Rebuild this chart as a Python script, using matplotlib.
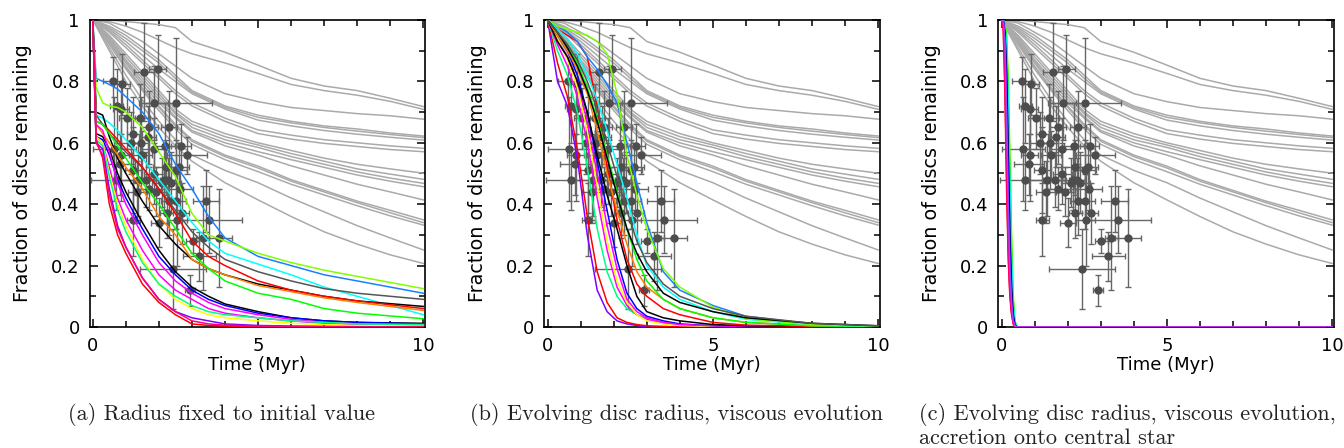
import matplotlib
matplotlib.use("Agg")
import matplotlib.pyplot as plt
from matplotlib.ticker import MultipleLocator, FixedLocator, FixedFormatter

# ---------------- data ----------------
# grey model curves (same in every panel)
GREY_T = [0, 0.5, 1, 1.5, 2, 2.5, 3, 4, 5, 6, 7, 8, 9, 10]
GREY_CURVES = [
    [1, 1.0, 0.995, 0.99, 0.985, 0.975, 0.93, 0.895, 0.853, 0.81, 0.785, 0.77, 0.745, 0.718],
    [1, 0.995, 0.98, 0.96, 0.935, 0.91, 0.89, 0.86, 0.826, 0.79, 0.77, 0.755, 0.735, 0.709],
    [1, 0.99, 0.96, 0.93, 0.89, 0.85, 0.81, 0.76, 0.734, 0.715, 0.705, 0.695, 0.688, 0.677],
    [1, 0.98, 0.95, 0.91, 0.87, 0.82, 0.77, 0.72, 0.690, 0.67, 0.655, 0.645, 0.632, 0.622],
    [1, 0.975, 0.94, 0.90, 0.86, 0.81, 0.765, 0.715, 0.683, 0.665, 0.65, 0.638, 0.627, 0.617],
    [1, 0.97, 0.93, 0.885, 0.84, 0.80, 0.76, 0.71, 0.674, 0.655, 0.64, 0.628, 0.618, 0.609],
    [1, 0.965, 0.92, 0.87, 0.82, 0.77, 0.73, 0.68, 0.642, 0.625, 0.61, 0.60, 0.59, 0.582],
    [1, 0.96, 0.91, 0.86, 0.81, 0.76, 0.72, 0.67, 0.630, 0.612, 0.598, 0.588, 0.578, 0.571],
    [1, 0.95, 0.89, 0.83, 0.77, 0.71, 0.67, 0.63, 0.600, 0.575, 0.55, 0.53, 0.515, 0.501],
    [1, 0.945, 0.88, 0.82, 0.76, 0.70, 0.66, 0.62, 0.593, 0.565, 0.54, 0.515, 0.498, 0.481],
    [1, 0.94, 0.87, 0.81, 0.75, 0.695, 0.65, 0.61, 0.585, 0.555, 0.53, 0.505, 0.485, 0.468],
    [1, 0.935, 0.865, 0.80, 0.74, 0.685, 0.64, 0.60, 0.571, 0.545, 0.52, 0.495, 0.475, 0.457],
    [1, 0.93, 0.86, 0.79, 0.73, 0.68, 0.635, 0.59, 0.560, 0.525, 0.495, 0.465, 0.44, 0.414],
    [1, 0.93, 0.85, 0.78, 0.72, 0.66, 0.61, 0.56, 0.524, 0.48, 0.445, 0.41, 0.38, 0.349],
    [1, 0.925, 0.845, 0.775, 0.715, 0.655, 0.605, 0.555, 0.518, 0.475, 0.44, 0.405, 0.372, 0.340],
    [1, 0.92, 0.84, 0.77, 0.705, 0.645, 0.595, 0.545, 0.506, 0.465, 0.43, 0.395, 0.362, 0.332],
    [1, 0.91, 0.82, 0.74, 0.67, 0.61, 0.56, 0.51, 0.470, 0.42, 0.375, 0.33, 0.29, 0.251],
    [1, 0.90, 0.80, 0.72, 0.65, 0.59, 0.54, 0.47, 0.414, 0.36, 0.31, 0.27, 0.235, 0.207],
]

# observed cluster disc fractions (same in every panel)
OBS_AGE = [0.62, 0.88, 0.72, 0.85, 1.04, 0.65, 0.85, 0.83, 1.23, 1.15, 1.23, 1.23, 1.36, 1.46,
           1.44, 1.50, 1.56, 1.61, 1.66, 1.71, 1.71, 1.84, 1.86, 1.96, 1.84, 1.91, 2.01, 2.16,
           2.19, 2.21, 2.23, 2.31, 2.36, 2.31, 2.43, 2.51, 2.51, 2.53, 2.54, 2.61, 2.63, 2.71,
           2.84, 2.66, 2.93, 3.02, 3.22, 3.32, 3.42, 3.52, 3.82, 2.10, 2.28, 1.35, 0.70]
OBS_FRAC = [0.80, 0.79, 0.72, 0.71, 0.68, 0.58, 0.56, 0.53, 0.63, 0.60, 0.51, 0.35, 0.48, 0.60,
            0.68, 0.56, 0.83, 0.48, 0.62, 0.65, 0.45, 0.58, 0.73, 0.84, 0.50, 0.44, 0.34, 0.48,
            0.59, 0.52, 0.37, 0.65, 0.47, 0.41, 0.19, 0.73, 0.51, 0.41, 0.35, 0.52, 0.45, 0.37,
            0.56, 0.59, 0.12, 0.28, 0.23, 0.29, 0.41, 0.35, 0.29, 0.47, 0.48, 0.44, 0.48]
OBS_AGE_ERR = [0.30, 0.25, 0.20, 0.25, 0.25, 0.65, 0.25, 0.45, 0.20, 0.30, 0.25, 0.20, 0.55, 0.25,
               0.30, 0.30, 0.30, 0.35, 0.25, 0.25, 0.35, 0.35, 0.40, 0.25, 0.30, 0.30, 0.25, 0.35,
               0.30, 0.40, 0.20, 0.25, 0.30, 0.25, 1.00, 1.10, 0.35, 0.30, 0.30, 0.30, 0.40, 0.20,
               0.60, 0.30, 0.15, 0.20, 0.50, 0.20, 0.40, 1.00, 0.40, 0.30, 0.25, 0.30, 0.75]
OBS_FRAC_ERR = [0.08, 0.10, 0.12, 0.08, 0.10, 0.17, 0.15, 0.10, 0.12, 0.10, 0.14, 0.12, 0.12, 0.15,
                0.11, 0.08, 0.16, 0.09, 0.10, 0.12, 0.07, 0.10, 0.12, 0.11, 0.10, 0.08, 0.08, 0.10,
                0.14, 0.09, 0.08, 0.12, 0.10, 0.11, 0.13, 0.21, 0.10, 0.09, 0.15, 0.08, 0.07, 0.10,
                0.06, 0.07, 0.05, 0.04, 0.08, 0.17, 0.10, 0.11, 0.16, 0.08, 0.07, 0.10, 0.10]

# coloured model curves, panel (a)
TA = [0, 0.1, 0.3, 0.5, 0.75, 1, 1.5, 2, 2.5, 3, 3.5, 4, 5, 6, 7, 8, 10]
A_COLORS = ['#1a80ff', '#80ff00', '#00ffff', '#555555', '#000000', '#ff0000', '#ff8000',
            '#00ff00', '#000000', '#0000ff', '#ff00ff', '#ff00ff', '#ffff00', '#00ff80',
            '#8000ff', '#ff0000', '#ff0080']
A_CURVES = [
    [1, .81, .80, .79, .775, .75, .70, .63, .53, .45, .36, .29, .23, .20, .17, .15, .11],
    [1, .78, .73, .72, .715, .70, .65, .57, .49, .37, .30, .28, .24, .21, .185, .165, .125],
    [1, .69, .68, .665, .64, .61, .55, .48, .41, .34, .28, .24, .205, .17, .13, .10, .04],
    [1, .69, .66, .63, .60, .57, .52, .45, .38, .31, .26, .22, .18, .15, .125, .11, .09],
    [1, .70, .69, .62, .55, .50, .41, .33, .27, .22, .19, .17, .14, .12, .10, .085, .067],
    [1, .67, .66, .64, .61, .58, .52, .45, .37, .28, .23, .20, .15, .12, .10, .085, .06],
    [1, .66, .63, .60, .56, .52, .45, .36, .30, .22, .19, .17, .135, .115, .095, .08, .054],
    [1, .67, .66, .63, .59, .55, .47, .40, .32, .24, .19, .15, .11, .09, .06, .045, .027],
    [1, .63, .62, .58, .50, .44, .34, .25, .18, .13, .10, .075, .05, .03, .02, .015, .012],
    [1, .62, .61, .56, .48, .42, .32, .23, .17, .12, .09, .07, .045, .03, .02, .015, .01],
    [1, .66, .64, .57, .47, .40, .30, .21, .15, .11, .08, .06, .04, .025, .015, .01, .006],
    [1, .62, .60, .52, .42, .35, .25, .17, .12, .09, .06, .045, .03, .02, .012, .008, .005],
    [1, .62, .60, .50, .40, .33, .22, .14, .09, .06, .04, .03, .02, .012, .008, .005, .003],
    [1, .61, .59, .49, .38, .31, .21, .14, .10, .07, .05, .04, .03, .02, .015, .01, .008],
    [1, .60, .58, .45, .33, .26, .16, .09, .05, .03, .02, .01, .005, .003, .002, .001, 0],
    [1, .61, .55, .40, .30, .24, .14, .08, .04, .01, .005, .003, .001, 0, 0, 0, 0],
    [1, .60, .56, .43, .32, .26, .16, .09, .05, .02, .01, .006, .003, .002, .001, 0, 0],
]

# coloured model curves, panel (b)
TB = [0, 0.3, 0.6, 0.9, 1.2, 1.5, 1.8, 2.1, 2.4, 2.7, 3.0, 3.5, 4, 5, 6, 8, 10]
B_COLORS = ['#8000ff', '#ff0000', '#00ff80', '#ff00ff', '#ffff00', '#0000ff', '#ff00ff',
            '#000000', '#ff0000', '#ff8000', '#00ff00', '#00ffff', '#1a80ff', '#80ff00',
            '#000000', '#555555']
B_CURVES = [
    [1, .80, .72, .55, .30, .12, .05, .02, .01, .005, 0, 0, 0, 0, 0, 0, 0],
    [1, .86, .75, .58, .36, .18, .08, .03, .015, .008, .004, .002, 0, 0, 0, 0, 0],
    [1, .90, .82, .70, .52, .32, .18, .10, .06, .04, .03, .015, .008, .003, .001, 0, 0],
    [1, .92, .85, .75, .60, .42, .25, .13, .07, .04, .025, .012, .006, .002, .001, 0, 0],
    [1, .94, .87, .78, .64, .46, .28, .15, .08, .04, .02, .01, .005, .002, 0, 0, 0],
    [1, .95, .90, .82, .70, .54, .38, .22, .11, .06, .035, .02, .01, .004, .002, 0, 0],
    [1, .93, .88, .80, .67, .50, .33, .19, .09, .05, .03, .015, .008, .004, .002, 0, 0],
    [1, .93, .88, .80, .70, .56, .43, .32, .20, .10, .05, .03, .02, .008, .004, .001, 0],
    [1, .97, .95, .93, .88, .72, .52, .35, .22, .14, .10, .06, .04, .015, .006, .002, 0],
    [1, .95, .90, .84, .76, .64, .50, .38, .27, .18, .13, .09, .06, .03, .015, .004, .001],
    [1, .96, .92, .86, .78, .68, .56, .44, .32, .22, .15, .09, .06, .03, .015, .004, .001],
    [1, .97, .94, .89, .82, .74, .64, .53, .42, .30, .20, .13, .09, .05, .025, .007, .002],
    [1, .98, .96, .93, .88, .84, .79, .73, .60, .47, .34, .18, .12, .07, .035, .01, .003],
    [1, .98, .97, .96, .95, .93, .89, .76, .56, .43, .32, .19, .13, .065, .027, .008, .003],
    [1, .96, .91, .85, .77, .67, .55, .43, .32, .24, .18, .11, .08, .05, .03, .012, .004],
    [1, .96, .92, .87, .80, .71, .60, .49, .38, .28, .21, .14, .10, .06, .035, .012, .004],
]

# coloured model curves, panel (c)
TC = [0, 0.05, 0.1, 0.15, 0.2, 0.25, 0.3, 0.35, 0.4, 0.45, 0.5, 10]
C_COLORS = ['#80ff00', '#00ff00', '#00ff80', '#00ffff', '#1a80ff', '#000000', '#0000ff',
            '#8000ff', '#ff00ff', '#ff0000', '#ff0080', '#a040ff']
C_CURVES = [
    [1, 1, .99, .95, .82, .57, .31, .11, .02, .005, 0, 0],
    [1, 1, .99, .94, .78, .52, .27, .09, .02, .004, 0, 0],
    [1, 1, .98, .91, .72, .45, .22, .07, .015, .002, 0, 0],
    [1, 1, .98, .90, .70, .42, .20, .07, .015, .002, 0, 0],
    [1, 1, .97, .86, .62, .34, .15, .05, .01, 0, 0, 0],
    [1, 1, .96, .83, .57, .30, .13, .04, .008, 0, 0, 0],
    [1, 1, .95, .78, .50, .25, .10, .03, .008, 0, 0, 0],
    [1, 1, .92, .68, .38, .18, .08, .02, .005, 0, 0, 0],
    [1, .99, .86, .56, .29, .12, .05, .015, .003, 0, 0, 0],
    [1, .97, .76, .45, .22, .10, .04, .01, 0, 0, 0, 0],
    [1, .98, .80, .50, .25, .11, .05, .015, 0, 0, 0, 0],
    [1, 1, .93, .70, .40, .19, .08, .02, .005, 0, 0, 0],
]

X_TICKS = [0, 5, 10]
Y_TICKS = [0, 0.2, 0.4, 0.6, 0.8, 1]
Y_TICK_LABELS = ['0', '0.2', '0.4', '0.6', '0.8', '1']
X_LABEL = 'Time (Myr)'
Y_LABEL = 'Fraction of discs remaining'
CAPTION_A = '(a) Radius fixed to initial value'
CAPTION_B = '(b) Evolving disc radius, viscous evolution'
CAPTION_C1 = '(c) Evolving disc radius, viscous evolution,'
CAPTION_C2 = 'accretion onto central star'

# ---------------- figure ----------------
W, H = 1344, 448
fig = plt.figure(figsize=(W / 100, H / 100), dpi=100)

panels = [
    (89.5, TA, A_CURVES, A_COLORS),
    (544.3, TB, B_CURVES, B_COLORS),
    (998.3, TC, C_CURVES, C_COLORS),
]
ax_w, ax_top, ax_bot = 335.5, 20, 327

for left, tt, curves, cols in panels:
    ax = fig.add_axes([left / W, 1 - ax_bot / H, ax_w / W, (ax_bot - ax_top) / H])
    for yv in GREY_CURVES:
        ax.plot(GREY_T, yv, color='#aaaaaa', lw=1.1, zorder=2)
    ax.errorbar(OBS_AGE, OBS_FRAC, xerr=OBS_AGE_ERR, yerr=OBS_FRAC_ERR, fmt='o',
                color='#4d4d4d', ecolor='#666666', elinewidth=1.0, capsize=2.2,
                capthick=1.0, markersize=5, zorder=3)
    for yv, c in zip(curves, cols):
        ax.plot(tt, yv, color=c, lw=1.1, zorder=4)
    ax.set_xlim(-0.1, 10.05)
    ax.set_ylim(0, 1)
    ax.xaxis.set_major_locator(FixedLocator(X_TICKS))
    ax.xaxis.set_minor_locator(MultipleLocator(1))
    ax.yaxis.set_major_locator(FixedLocator(Y_TICKS))
    ax.yaxis.set_major_formatter(FixedFormatter(Y_TICK_LABELS))
    ax.yaxis.set_minor_locator(MultipleLocator(0.1))
    ax.tick_params(which='both', direction='in', top=True, right=True, width=1.1,
                   labelsize=13, pad=7)
    ax.tick_params(which='major', length=6)
    ax.tick_params(which='minor', length=4)
    for s in ax.spines.values():
        s.set_linewidth(1.2)
    ax.set_xlabel(X_LABEL, fontsize=13, labelpad=1)
    ax.set_ylabel(Y_LABEL, fontsize=13.8, labelpad=14)

cap_font = dict(family='cmr10', fontsize=16, color='#222222', va='baseline')
fig.text(222 / W, 1 - 420 / H, CAPTION_A, ha='center', **cap_font)
fig.text(676 / W, 1 - 420 / H, CAPTION_B, ha='center', **cap_font)
fig.text(919 / W, 1 - 420 / H, CAPTION_C1, ha='left', **cap_font)
fig.text(919 / W, 1 - 444 / H, CAPTION_C2, ha='left', **cap_font)

fig.savefig('out.png', dpi=100)
